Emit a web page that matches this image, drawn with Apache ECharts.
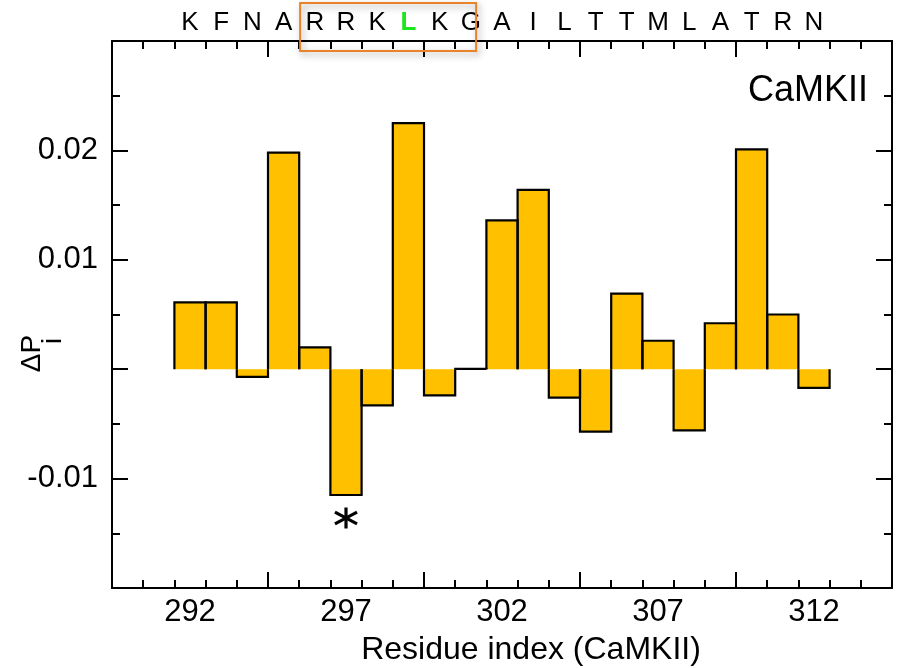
<!DOCTYPE html>
<html><head><meta charset="utf-8">
<script src="https://cdn.jsdelivr.net/npm/echarts@6/dist/echarts.min.js"></script>
<style>html,body{margin:0;padding:0;background:#fff}#c{width:899px;height:668px}</style>
</head><body><div id="c"></div>
<script>
// ---- data ----
const residues = [292,293,294,295,296,297,298,299,300,301,302,303,304,305,306,307,308,309,310,311,312];
const deltaP   = [0.0061,0.0061,-0.0007,0.0198,0.0020,-0.0115,-0.0033,0.0225,-0.0024,0.00003,0.0136,0.0164,-0.0026,-0.0057,0.0069,0.0026,-0.0056,0.0042,0.0201,0.0050,-0.0017];
const sequence = ['K','F','N','A','R','R','K','L','K','G','A','I','L','T','T','M','L','A','T','R','N'];
const highlightResidue = 299;
const xLabelValues = [292,297,302,307,312];
const xMajorTicks = [294.5,299.5,304.5,309.5];
const xMinorTicks = [290.5,291.5,292.5,293.5,295.5,296.5,297.5,298.5,300.5,301.5,302.5,303.5,305.5,306.5,307.5,308.5,310.5,311.5,312.5,313.5];
const yLabelValues = [-0.01,0.01,0.02];
const asteriskPoints = [[297,-0.0136]];
const boxResidueRange = [295.53,301.17];
const xRange = [289.5,314.5];
const yRange = [-0.02,0.03];

const FONT = '"Liberation Sans", Arial, sans-serif';
const chart = echarts.init(document.getElementById('c'), null, {renderer:'canvas'});
const barData = residues.map((r,i)=>[r, deltaP[i]]);
const letterOf = {};
residues.forEach((r,i)=>{ letterOf[r] = sequence[i]; });

const lineStyle = {color:'#000', width:2};
function xAxisBase(pos){
  return {type:'value', position:pos, min:xRange[0], max:xRange[1], gridIndex:0,
    axisLine:{show:false, onZero:false, lineStyle}, splitLine:{show:false},
    axisLabel:{show:false}, axisTick:{show:false}};
}
const xAxes = [
  Object.assign(xAxisBase('bottom'), {
    axisLine:{show:true, onZero:false, lineStyle},
    axisTick:{show:true, inside:true, length:16, lineStyle, customValues:xMajorTicks},
    axisLabel:{show:true, customValues:xLabelValues, fontSize:31, color:'#000', fontFamily:FONT, margin:9}
  }),
  Object.assign(xAxisBase('bottom'), {
    axisTick:{show:true, inside:true, length:8, lineStyle, customValues:xMinorTicks}
  }),
  Object.assign(xAxisBase('top'), {
    axisLine:{show:true, onZero:false, lineStyle},
    axisTick:{show:true, inside:true, length:16, lineStyle, customValues:xMajorTicks}
  }),
  Object.assign(xAxisBase('top'), {
    axisTick:{show:true, inside:true, length:8, lineStyle, customValues:xMinorTicks},
    axisLabel:{show:true, customValues:residues, margin:5, fontSize:26, color:'#000', fontFamily:FONT,
      formatter:(v)=> v===highlightResidue ? '{g|'+letterOf[v]+'}' : (letterOf[v]||''),
      rich:{g:{color:'#1ee61e', fontWeight:'bold', fontSize:26, fontFamily:FONT}}}
  })
];
function yAxisBase(pos, labels){
  return {type:'value', position:pos, min:yRange[0], max:yRange[1], interval:0.01, gridIndex:0,
    axisLine:{show:true, onZero:false, lineStyle}, splitLine:{show:false},
    axisTick:{show:true, inside:true, length:16, lineStyle},
    minorTick:{show:true, splitNumber:2, length:8, lineStyle},
    axisLabel: labels ? {show:true, customValues:yLabelValues, fontSize:31, color:'#000', fontFamily:FONT, margin:14,
      formatter:(v)=> (+v).toFixed(2)} : {show:false}};
}

const option = {
  animation:false,
  backgroundColor:'#fff',
  grid:{left:112, right:7, top:41, bottom:80, containLabel:false},
  xAxis: xAxes,
  yAxis: [yAxisBase('left', true), yAxisBase('right', false)],
  series:[
    {type:'custom', xAxisIndex:0, yAxisIndex:0, data:barData, z:2,
      renderItem:(params, api)=>{
        const x = api.value(0), v = api.value(1);
        const p0 = api.coord([x-0.5, 0]), p1 = api.coord([x+0.5, v]);
        return {type:'rect', shape:{x:p0[0], y:Math.min(p0[1],p1[1]), width:p1[0]-p0[0], height:Math.abs(p1[1]-p0[1])},
          style:{fill:'#FFC000'}};
      }},
    {type:'custom', xAxisIndex:0, yAxisIndex:0, data:barData, z:3,
      renderItem:(params, api)=>{
        const x = api.value(0), v = api.value(1);
        const a = api.coord([x-0.5, 0]), b = api.coord([x-0.5, v]), c = api.coord([x+0.5, v]), d = api.coord([x+0.5, 0]);
        return {type:'polyline', shape:{points:[a,b,c,d]}, style:{stroke:'#000', lineWidth:2.2, fill:null, lineJoin:'miter'}};
      }},
    {type:'custom', xAxisIndex:0, yAxisIndex:0, data:asteriskPoints, z:4, clip:false,
      renderItem:(params, api)=>{
        const p = api.coord([api.value(0), api.value(1)]);
        const L = 10.5, D = 12.5, ang = 28*Math.PI/180;
        const dx = D*Math.cos(ang), dy = D*Math.sin(ang);
        const st = {stroke:'#000', lineWidth:3.2, lineCap:'butt'};
        return {type:'group', children:[
          {type:'line', shape:{x1:p[0], y1:p[1]-L, x2:p[0], y2:p[1]+L}, style:st},
          {type:'line', shape:{x1:p[0]-dx, y1:p[1]-dy, x2:p[0]+dx, y2:p[1]+dy}, style:st},
          {type:'line', shape:{x1:p[0]-dx, y1:p[1]+dy, x2:p[0]+dx, y2:p[1]-dy}, style:st}
        ]};
      }}
  ]
};
chart.setOption(option);

const bx0 = chart.convertToPixel({xAxisIndex:0}, boxResidueRange[0]);
const bx1 = chart.convertToPixel({xAxisIndex:0}, boxResidueRange[1]);
chart.setOption({
  graphic:[
    {type:'rect', shape:{x:bx0, y:3, width:bx1-bx0, height:48}, z:10,
      style:{fill:null, stroke:'#E8832A', lineWidth:2, shadowBlur:7, shadowColor:'rgba(0,0,0,0.4)', shadowOffsetX:2, shadowOffsetY:3}},
    {type:'text', x:868, y:91, z:10, style:{text:'CaMKII', font:'36px '+FONT, fill:'#000', align:'right', verticalAlign:'middle'}},
    {type:'text', x:531, y:650, z:10, style:{text:'Residue index (CaMKII)', font:'32px '+FONT, fill:'#000', align:'center', verticalAlign:'middle'}},
    {type:'text', x:32, y:353.5, rotation:Math.PI/2, z:10, style:{text:'ΔP', font:'28px '+FONT, fill:'#000', align:'center', verticalAlign:'middle'}},
    {type:'text', x:53, y:341, rotation:Math.PI/2, z:10, style:{text:'i', font:'28px '+FONT, fill:'#000', align:'center', verticalAlign:'middle'}}
  ]
});
</script></body></html>
